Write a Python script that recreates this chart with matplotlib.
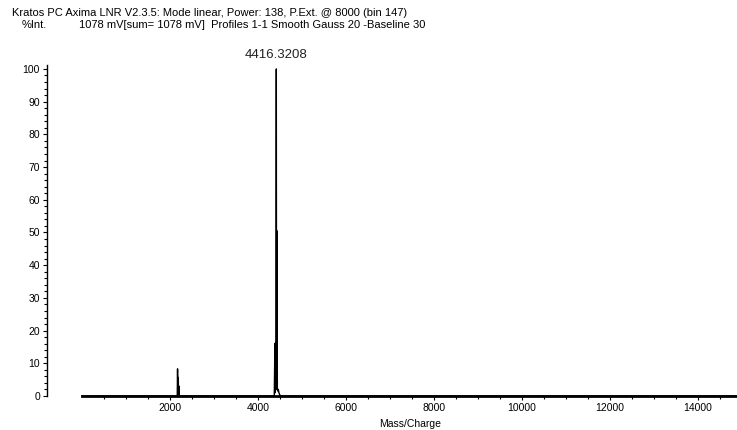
"""
MALDI-TOF spectrum, Kratos Axima export look-alike
"""

import matplotlib
matplotlib.use("Agg")
import matplotlib.pyplot as plt
from matplotlib.ticker import MultipleLocator, FixedLocator

# profile points (m/z, %Int.)
mass = [0, 2165, 2172, 2178, 2188, 2195, 2205, 2212, 2225,
        4370, 4385, 4392, 4400, 4408, 4416.32, 4422, 4432, 4440,
        4450, 4462, 4475, 4490, 4510, 14900]
intensity = [0, 0, 8.3, 0.5, 5.7, 0.5, 3.0, 0.3, 0,
             0, 16.1, 1.0, 3.0, 2.0, 100, 2.0, 50.5, 2.5,
             1.5, 2.0, 1.0, 0.5, 0, 0]

peak_mass = 4416.3208
peak_height = 100

x_ticks = [2000, 4000, 6000, 8000, 10000, 12000, 14000]
x_minor = [m for m in range(500, 14900, 500) if m % 2000]
y_ticks = [0, 10, 20, 30, 40, 50, 60, 70, 80, 90, 100]

header_1 = "Kratos PC Axima LNR V2.3.5: Mode linear, Power: 138, P.Ext. @ 8000 (bin 147)"
header_2 = "1078 mV[sum= 1078 mV]  Profiles 1-1 Smooth Gauss 20 -Baseline 30"


def main():
    plt.rcParams["font.family"] = ["Liberation Sans", "DejaVu Sans"]

    fig = plt.figure(figsize=(7.37, 4.30), dpi=100)
    ax = fig.add_axes([47 / 737, 34 / 430, 690 / 737, 331 / 430])

    ax.plot(mass, intensity, color="black", lw=1.0, clip_on=False)

    ax.set_xlim(-795, 14886)
    ax.set_ylim(0, 101.2)

    # spines: detached x baseline, plain left axis
    ax.spines["top"].set_visible(False)
    ax.spines["right"].set_visible(False)
    ax.spines["bottom"].set_bounds(0, 14900)
    ax.spines["bottom"].set_linewidth(2.0)
    ax.spines["left"].set_linewidth(1.0)

    ax.set_xticks(x_ticks)
    ax.set_xticklabels([str(t) for t in x_ticks])
    ax.xaxis.set_minor_locator(FixedLocator(x_minor))
    ax.set_yticks(y_ticks)
    ax.yaxis.set_minor_locator(MultipleLocator(2))
    ax.tick_params(axis="both", which="major", length=3, width=0.8,
                   labelsize=7.5, pad=2, direction="out")
    ax.tick_params(axis="both", which="minor", length=2, width=0.8,
                   direction="out")

    # peak label
    ax.text(peak_mass, peak_height + 2.5, f"{peak_mass:.4f}", ha="center",
            va="bottom", fontsize=9.5, color="#222222")

    # x label centred under the baseline
    ax.text(7450, -0.068, "Mass/Charge", transform=ax.get_xaxis_transform(),
            ha="center", va="top", fontsize=7.5)

    # instrument header
    fig.text(12 / 737, 1 - 13 / 430, header_1, ha="left", va="center", fontsize=8)
    fig.text(22 / 737, 1 - 25 / 430, "%Int.", ha="left", va="center", fontsize=8)
    fig.text(79 / 737, 1 - 25 / 430, header_2, ha="left", va="center", fontsize=8)

    fig.savefig("out.png", dpi=100)


if __name__ == "__main__":
    main()
